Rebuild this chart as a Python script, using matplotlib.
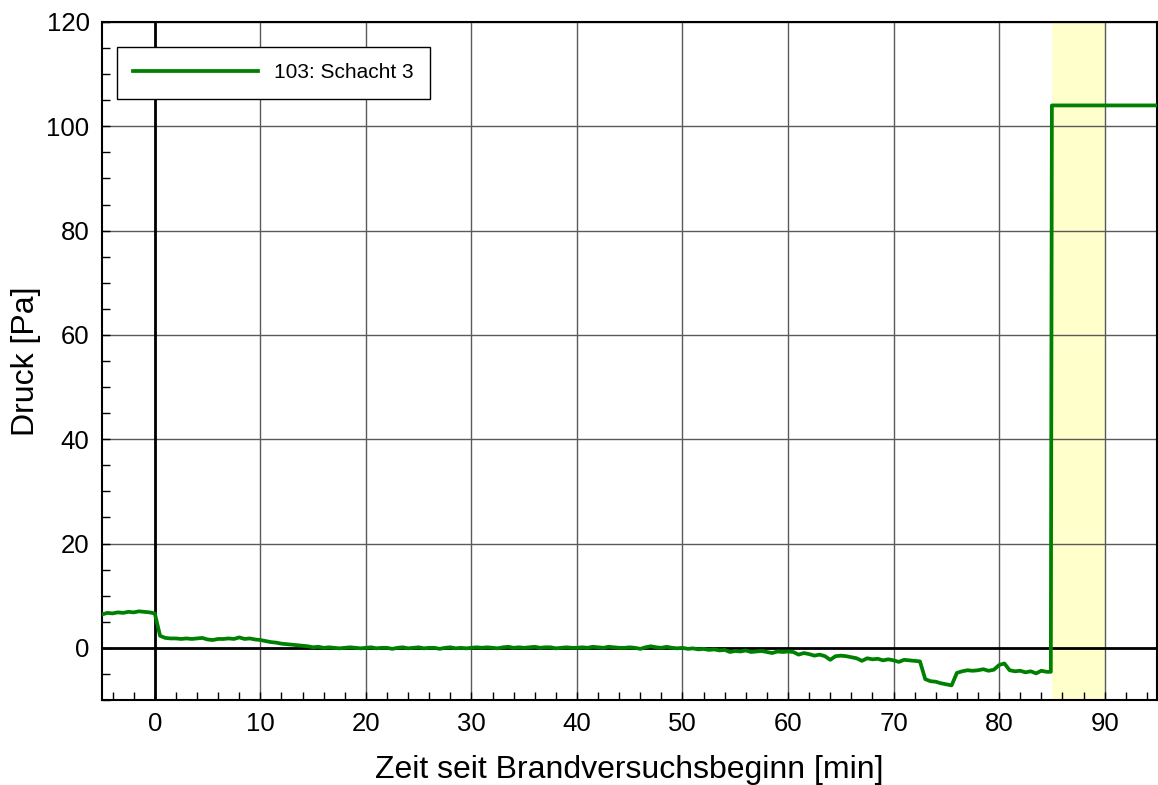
import numpy as np
import matplotlib
matplotlib.use("Agg")
import matplotlib.pyplot as plt
from matplotlib.ticker import MultipleLocator

plt.rcParams['font.family'] = ['Liberation Sans', 'DejaVu Sans']

# Pressure record, sampled every 0.5 min from -5 min up to 84.5 min
t_sampled = np.arange(-5.0, 85.0, 0.5)
druck_sampled = [
    6.4, 6.7, 6.6, 6.8, 6.7, 6.9, 6.8, 7.0, 6.9, 6.8,          # -5.0 .. -0.5
    6.6, 2.3, 1.9, 1.8, 1.8, 1.7, 1.8, 1.7, 1.8, 1.9,          # 0.0 .. 4.5
    1.6, 1.5, 1.7, 1.7, 1.8, 1.7, 2.0, 1.7, 1.8, 1.6,          # 5.0 .. 9.5
    1.5, 1.3, 1.1, 1.0, 0.8, 0.7, 0.6, 0.5, 0.4, 0.3,          # 10.0 .. 14.5
    0.1, 0.2, 0.0, 0.1, 0.0, -0.1, 0.0, 0.1, 0.0, -0.1,        # 15.0 .. 19.5
    0.0, 0.1, -0.1, 0.0, 0.0, -0.2, 0.0, 0.1, -0.1, 0.0,       # 20.0 .. 24.5
    0.1, -0.1, 0.0, 0.0, -0.2, 0.0, 0.1, -0.1, 0.0, -0.1,      # 25.0 .. 29.5
    0.0, 0.1, 0.0, 0.1, 0.0, -0.1, 0.1, 0.2, 0.0, 0.1,         # 30.0 .. 34.5
    0.0, 0.1, 0.2, 0.0, 0.1, 0.1, -0.1, 0.0, 0.1, 0.0,         # 35.0 .. 39.5
    0.0, 0.1, 0.0, 0.2, 0.1, 0.0, 0.2, 0.1, 0.0, 0.0,          # 40.0 .. 44.5
    0.1, 0.0, -0.2, 0.1, 0.3, 0.1, 0.0, 0.2, 0.0, -0.1,        # 45.0 .. 49.5
    0.0, -0.2, -0.1, -0.3, -0.2, -0.4, -0.3, -0.5, -0.4, -0.8, # 50.0 .. 54.5
    -0.6, -0.7, -0.5, -0.8, -0.7, -0.6, -0.8, -1.0, -0.7, -0.8,  # 55.0 .. 59.5
    -0.7, -0.8, -1.3, -1.0, -1.2, -1.5, -1.3, -1.6, -2.3, -1.6,  # 60.0 .. 64.5
    -1.5, -1.6, -1.8, -2.0, -2.5, -2.0, -2.2, -2.1, -2.4, -2.2,  # 65.0 .. 69.5
    -2.4, -2.7, -2.3, -2.4, -2.5, -2.6, -6.0, -6.4, -6.5, -6.8,  # 70.0 .. 74.5
    -7.0, -7.2, -4.8, -4.5, -4.3, -4.4, -4.3, -4.1, -4.4, -4.2,  # 75.0 .. 79.5
    -3.3, -3.0, -4.3, -4.5, -4.4, -4.7, -4.5, -4.9, -4.4, -4.6,  # 80.0 .. 84.5
]
# Step to the sensor's saturated value at 85 min
t_tail = [84.9, 85.0, 95.0]
druck_tail = [-4.6, 104.0, 104.0]

zeit = np.concatenate([t_sampled, t_tail])
druck = np.array(druck_sampled + druck_tail)

series_label = "103: Schacht 3"
highlight_span = (85, 90)

fig = plt.figure(figsize=(11.58, 7.85), dpi=100)
ax = fig.add_axes([0.0881, 0.1083, 0.9119 - 0.0005, 0.972 - 0.1083])

ax.axvspan(*highlight_span, color='#ffffcc', zorder=0, lw=0)

ax.set_xlim(-5, 95)
ax.set_ylim(-10, 120)
ax.xaxis.set_major_locator(MultipleLocator(10))
ax.xaxis.set_minor_locator(MultipleLocator(2))
ax.yaxis.set_major_locator(MultipleLocator(20))
ax.yaxis.set_minor_locator(MultipleLocator(5))

ax.grid(True, which='major', color='#5a5a5a', lw=1.0, zorder=1)
ax.axhline(0, color='black', lw=2.0, zorder=2)
ax.axvline(0, color='black', lw=2.0, zorder=2)

ax.plot(zeit, druck, color='#008000', lw=2.7, label=series_label, zorder=3)

ax.tick_params(which='both', direction='in', top=False, right=False,
               labelsize=18.5, color='black')
ax.tick_params(which='major', length=6, width=1.0, pad=9)
ax.tick_params(which='minor', length=6, width=1.0)
for s in ax.spines.values():
    s.set_color('black')
    s.set_linewidth(1.5)

ax.set_xlabel("Zeit seit Brandversuchsbeginn [min]", fontsize=23, labelpad=13)
ax.set_ylabel("Druck [Pa]", fontsize=23)
ax.yaxis.set_label_coords(-0.058, 0.5)

leg = ax.legend(loc='upper left', bbox_to_anchor=(0.0142, 0.963),
                borderaxespad=0, fancybox=False, edgecolor='black',
                framealpha=1, fontsize=15, handlelength=6,
                handletextpad=0.75, borderpad=0.78)
leg.get_frame().set_linewidth(1.0)

fig.savefig("out.png", dpi=100)
